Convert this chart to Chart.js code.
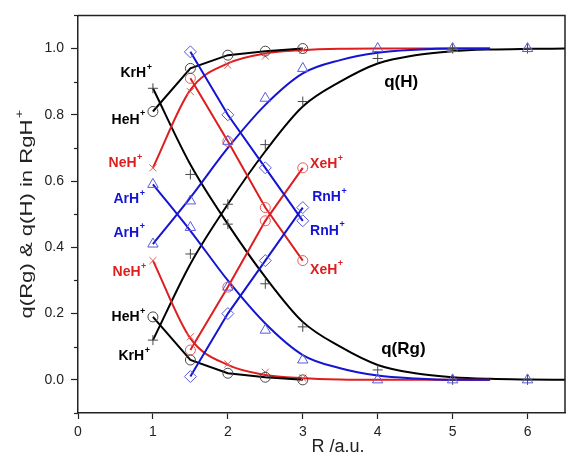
<!DOCTYPE html>
<html><head><meta charset="utf-8">
<script src="https://cdn.jsdelivr.net/npm/chart.js@4/dist/chart.umd.min.js"></script>
<style>html,body{margin:0;padding:0;background:#fff;} #wrap{position:relative;width:572px;height:458px;}</style>
</head><body><div id="wrap"><canvas id="c" width="572" height="458"></canvas></div>
<script>
// ---------- data ----------
const R = [1, 1.5, 2, 2.5, 3, 4, 5, 6];
const R_LATE = [1.5, 2, 2.5, 3];
const R_FIT = [1, 1.5, 2, 2.5, 3, 3.5, 4, 4.5, 5, 5.5, 6, 6.5];

// symbols (computed charges)
const HeH_qH  = [0.81, 0.94, 0.98, 0.992, 1.0];
const HeH_qRg = [0.19, 0.06, 0.02, 0.008, 0.0];
const NeH_qH  = [0.64, 0.87, 0.95, 0.977, 0.995];
const NeH_qRg = [0.36, 0.13, 0.048, 0.023, 0.005];
const ArH_qH  = [0.41, 0.54, 0.72, 0.85, 0.94, 1.0, 1.0, 1.0];
const ArH_qRg = [0.59, 0.46, 0.28, 0.15, 0.06, 0.0, 0.0, 0.0];
const KrH_qH  = [0.12, 0.38, 0.53, 0.71, 0.84, 0.97, 1.0, 1.0];
const KrH_qRg = [0.88, 0.62, 0.47, 0.29, 0.16, 0.03, 0.0, 0.0];
const XeH_qH  = [0.09, 0.28, 0.48, 0.64];
const XeH_qRg = [0.91, 0.72, 0.52, 0.36];
const RnH_qH  = [0.01, 0.20, 0.36, 0.52];
const RnH_qRg = [0.99, 0.80, 0.64, 0.48];

// fitted curves
const FIT_Kr_qH  = [0.12, 0.35, 0.53, 0.69, 0.825, 0.90, 0.955, 0.98, 0.992, 0.997, 0.999, 1.0];
const FIT_Kr_qRg = [0.88, 0.65, 0.47, 0.31, 0.175, 0.10, 0.045, 0.02, 0.008, 0.003, 0.001, 0.0];
const FIT_Ar_qH  = [0.41, 0.55, 0.70, 0.83, 0.925, 0.965, 0.987, 0.996, 1.0, 1.0];
const FIT_Ar_qRg = [0.59, 0.45, 0.30, 0.17, 0.075, 0.035, 0.013, 0.004, 0.0, 0.0];
const FIT_Ne_qH  = [0.64, 0.875, 0.955, 0.985, 0.995, 0.999, 1.0, 1.0, 1.0, 1.0];
const FIT_Ne_qRg = [0.36, 0.125, 0.045, 0.015, 0.005, 0.001, 0.0, 0.0, 0.0, 0.0];

const X_TICKS = [0, 1, 2, 3, 4, 5, 6];
const Y_TICKS = [0.0, 0.2, 0.4, 0.6, 0.8, 1.0];
const Y_MINOR = [-0.1, 0.1, 0.3, 0.5, 0.7, 0.9, 1.1];

const X_TITLE = 'R /a.u.';
const Y_TITLE = 'q(Rg) & q(H) in RgH';

// text annotations: [text, x, y, colour, kind]
const LABELS = [
  ['KrH', 0.567, 0.926, 'k', 'ion'],
  ['HeH', 0.448, 0.785, 'k', 'ion'],
  ['NeH', 0.408, 0.653, 'r', 'ion'],
  ['ArH', 0.474, 0.544, 'b', 'ion'],
  ['ArH', 0.474, 0.444, 'b', 'ion'],
  ['NeH', 0.461, 0.324, 'r', 'ion'],
  ['HeH', 0.448, 0.188, 'k', 'ion'],
  ['KrH', 0.540, 0.071, 'k', 'ion'],
  ['XeH', 3.098, 0.650, 'r', 'ion'],
  ['RnH', 3.125, 0.550, 'b', 'ion'],
  ['RnH', 3.098, 0.450, 'b', 'ion'],
  ['XeH', 3.098, 0.332, 'r', 'ion'],
  ['q(H)', 4.087, 0.897, 'k', 'big'],
  ['q(Rg)', 4.047, 0.091, 'k', 'big']
];

// ---------- styles ----------
const COL = {k: '#000000', r: 'rgb(222,30,30)', b: 'rgb(20,20,210)'};
const MCOL = {k: 'rgb(70,70,70)', r: 'rgb(230,90,90)', b: 'rgb(90,90,225)'};
const FONT = "'Liberation Sans', Arial, sans-serif";

function pts(xs, ys) { return ys.map((y, i) => ({x: xs[i], y: y})); }

function fitLine(ys, c, order) {
  return {data: pts(R_FIT, ys), borderColor: COL[c], borderWidth: 2, pointRadius: 0,
    showLine: true, cubicInterpolationMode: 'monotone', fill: false, order: order};
}
function polyLine(xs, ys, c, order) {
  return {data: pts(xs, ys), borderColor: COL[c], borderWidth: 2, pointRadius: 0,
    showLine: true, tension: 0, fill: false, order: order};
}
function marks(xs, ys, c, style, r) {
  return {data: pts(xs, ys), showLine: false, pointStyle: style, pointRadius: r,
    pointBorderColor: MCOL[c], pointBackgroundColor: 'rgba(255,255,255,0)',
    pointBorderWidth: 1, order: 0};
}

const datasets = [
  fitLine(FIT_Kr_qH, 'k', 6), fitLine(FIT_Kr_qRg, 'k', 6),
  fitLine(FIT_Ne_qH, 'r', 5), fitLine(FIT_Ne_qRg, 'r', 5),
  fitLine(FIT_Ar_qH, 'b', 4), fitLine(FIT_Ar_qRg, 'b', 4),
  polyLine(R, HeH_qH, 'k', 3), polyLine(R, HeH_qRg, 'k', 3),
  polyLine(R_LATE, XeH_qH, 'r', 2), polyLine(R_LATE, XeH_qRg, 'r', 2),
  polyLine(R_LATE, RnH_qH, 'b', 1), polyLine(R_LATE, RnH_qRg, 'b', 1),
  marks(R, HeH_qH, 'k', 'circle', 5), marks(R, HeH_qRg, 'k', 'circle', 5),
  marks(R, NeH_qH, 'r', 'crossRot', 5), marks(R, NeH_qRg, 'r', 'crossRot', 5),
  marks(R, ArH_qH, 'b', 'triangle', 6), marks(R, ArH_qRg, 'b', 'triangle', 6),
  marks(R, KrH_qH, 'k', 'cross', 5), marks(R, KrH_qRg, 'k', 'cross', 5),
  marks(R_LATE, XeH_qH, 'r', 'circle', 5), marks(R_LATE, XeH_qRg, 'r', 'circle', 5),
  marks(R_LATE, RnH_qH, 'b', 'rectRot', 6), marks(R_LATE, RnH_qRg, 'b', 'rectRot', 6)
];

const decor = {
  id: 'decor',
  afterDraw(chart) {
    const ctx = chart.ctx, a = chart.chartArea;
    const xs = chart.scales.x, ys = chart.scales.y;
    ctx.save();
    // frame top & right
    ctx.strokeStyle = '#222'; ctx.lineWidth = 1.5;
    ctx.beginPath();
    ctx.moveTo(a.left, a.top); ctx.lineTo(a.right, a.top); ctx.lineTo(a.right, a.bottom);
    ctx.stroke();
    // minor ticks on y
    ctx.lineWidth = 1.2;
    Y_MINOR.forEach(v => {
      const py = Math.round(ys.getPixelForValue(v)) + 0.5;
      ctx.beginPath(); ctx.moveTo(a.left - 4, py); ctx.lineTo(a.left, py); ctx.stroke();
    });
    // axis titles
    ctx.fillStyle = '#222';
    ctx.textBaseline = 'middle'; ctx.textAlign = 'center';
    ctx.font = '18px ' + FONT;
    ctx.fillText(X_TITLE, xs.getPixelForValue(3.47), 447);
    ctx.save();
    ctx.translate(26, (a.top + a.bottom) / 2);
    ctx.rotate(-Math.PI / 2);
    ctx.scale(1.3, 1);
    ctx.font = '17px ' + FONT;
    const tw = ctx.measureText(Y_TITLE).width;
    ctx.font = '11px ' + FONT;
    const sw = ctx.measureText('+').width;
    const x0 = -(tw + sw + 1) / 2;
    ctx.textAlign = 'left';
    ctx.font = '17px ' + FONT;
    ctx.fillText(Y_TITLE, x0, 1);
    ctx.font = '11px ' + FONT;
    ctx.fillText('+', x0 + tw + 1, -6);
    ctx.restore();
    // annotations
    ctx.textBaseline = 'middle'; ctx.textAlign = 'left';
    LABELS.forEach(([t, x, y, c, kind]) => {
      const px = xs.getPixelForValue(x), py = ys.getPixelForValue(y);
      ctx.fillStyle = COL[c];
      if (kind === 'big') {
        ctx.font = 'bold 17px ' + FONT;
        ctx.fillText(t, px, py);
      } else {
        ctx.font = 'bold 14px ' + FONT;
        ctx.fillText(t, px, py);
        const w = ctx.measureText(t).width;
        ctx.font = 'bold 9px ' + FONT;
        ctx.fillText('+', px + w + 0.5, py - 6);
      }
    });
    ctx.restore();
  }
};

new Chart(document.getElementById('c'), {
  type: 'scatter',
  data: {datasets: datasets},
  options: {
    responsive: false, animation: false, devicePixelRatio: 1,
    layout: {padding: {top: 5, right: 1, left: 0, bottom: 0}},
    plugins: {legend: {display: false}, tooltip: {enabled: false}},
    scales: {
      x: {
        type: 'linear', min: 0, max: 6.5,
        afterFit(s) { s.height = 45; },
        afterBuildTicks(s) { s.ticks = X_TICKS.map(v => ({value: v})); },
        ticks: {font: {size: 14, family: FONT}, color: '#222', padding: 5,
                callback: v => String(v), includeBounds: false},
        grid: {drawOnChartArea: false, drawTicks: true, tickLength: 6, tickColor: '#222', tickWidth: 1.2},
        border: {color: '#222', width: 1.5},
        title: {display: false}
      },
      y: {
        type: 'linear', min: -0.1, max: 1.1,
        afterFit(s) { s.width = 78; },
        afterBuildTicks(s) { s.ticks = Y_TICKS.map(v => ({value: v})); },
        ticks: {font: {size: 14, family: FONT}, color: '#222', padding: 7,
                callback: v => v.toFixed(1)},
        grid: {drawOnChartArea: false, drawTicks: true, tickLength: 7, tickColor: '#222', tickWidth: 1.2},
        border: {color: '#222', width: 1.5},
        title: {display: false}
      }
    }
  },
  plugins: [decor]
});
</script></body></html>
